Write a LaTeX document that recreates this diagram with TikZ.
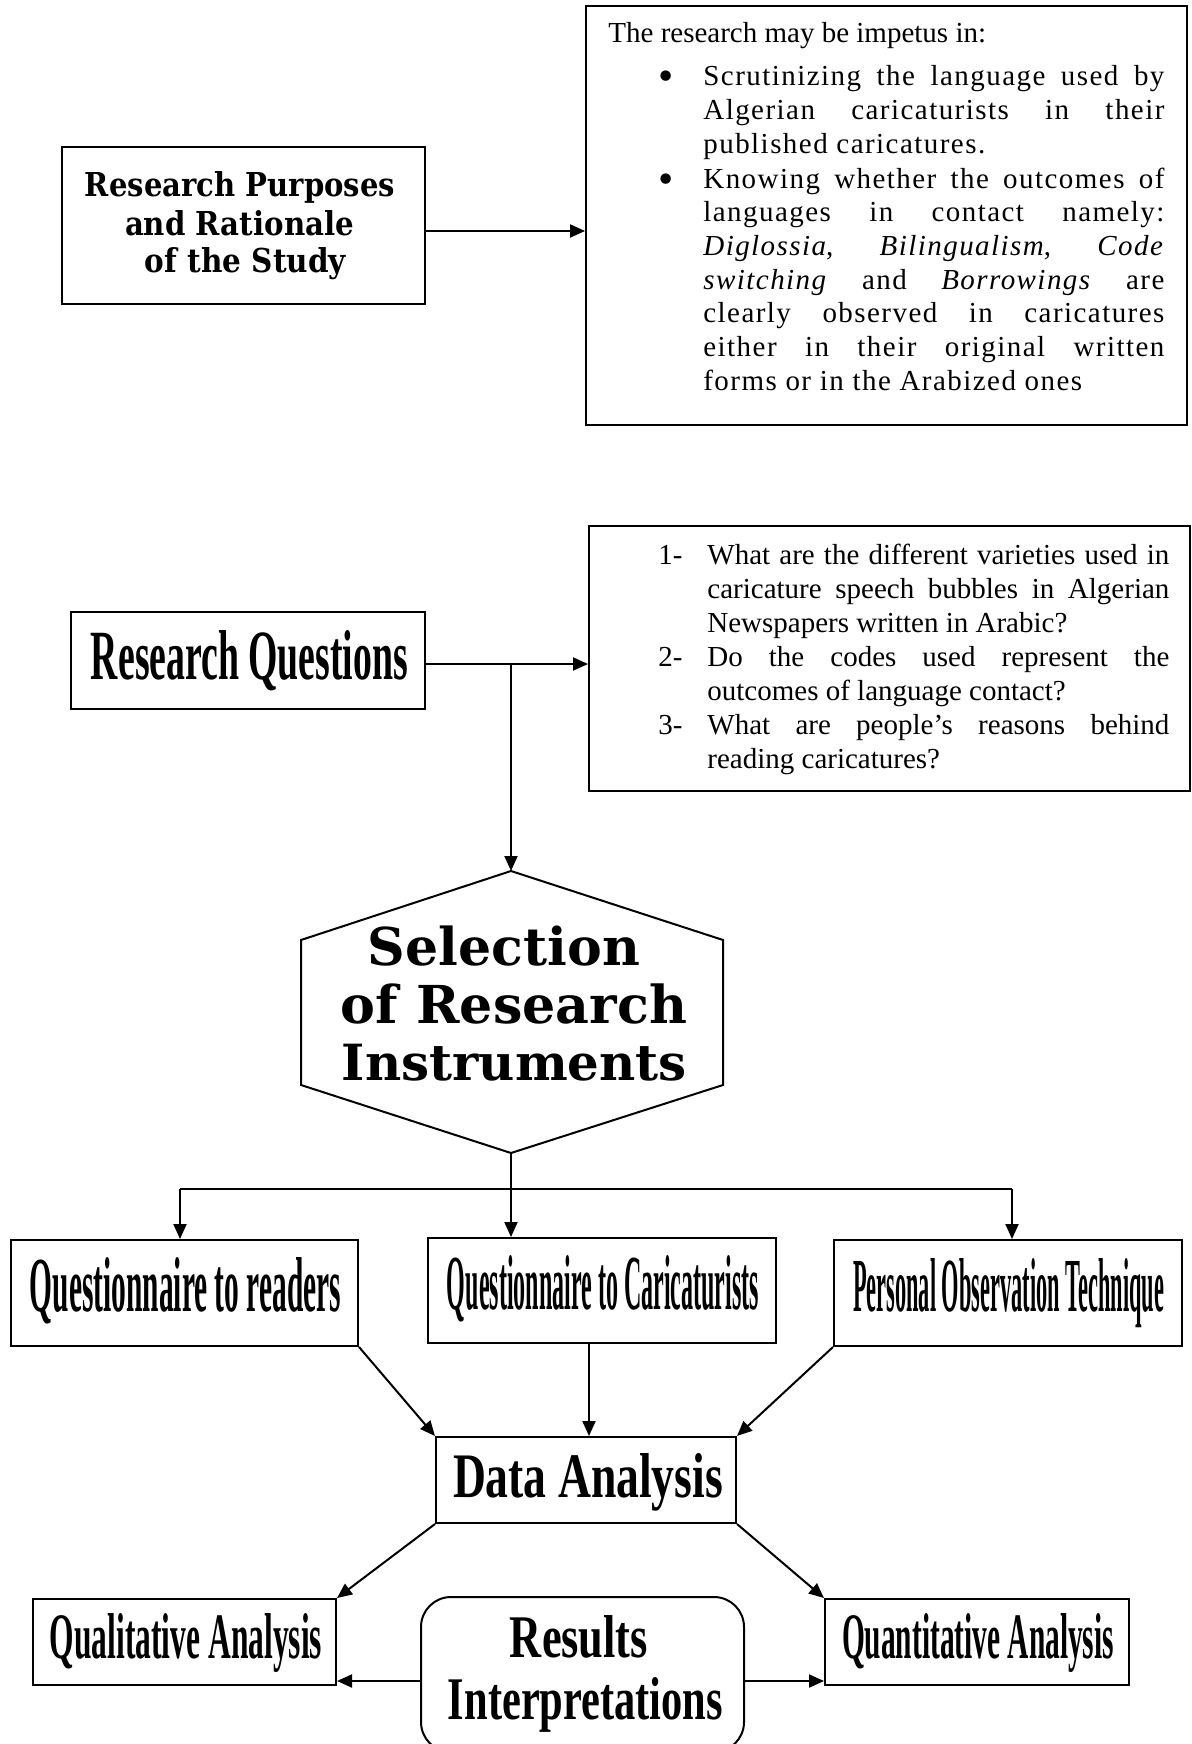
\documentclass[tikz,border=0pt]{standalone}
\usepackage{graphicx}
\usepackage{fontspec}
\setmainfont{Liberation Serif}
\newfontfamily\spacedfont{Liberation Serif}[LetterSpace=5]
\newfontfamily\widefont{DejaVu Serif}
\usetikzlibrary{arrows.meta}
\newlength\labw
\newlength\txtw
\newcommand\fl[2]{\noindent\makebox[\labw][l]{#1}\makebox[\txtw][s]{#2}\par}
\newcommand\cl[1]{\noindent\hspace*{\labw}\makebox[\txtw][s]{#1}\par}
\newcommand\lastl[1]{\noindent\hspace*{\labw}#1\par}
\newcommand\bul{\raisebox{-2.5pt}{\scalebox{1.5}{\textbullet}}}
\newcommand\cnd[3]{\resizebox{#1}{#2}{\bfseries #3}}
\newcommand\wbf[3]{\resizebox{#1}{#2}{\widefont\bfseries #3}}
\begin{document}
\begin{tikzpicture}[x=0.5pt,y=-0.5pt,
  box/.style={draw,line width=1pt,inner sep=0pt},
  lbl/.style={inner sep=0pt,anchor=base},
  arr/.style={line width=1pt,-{Triangle[length=7.5pt,width=6.5pt]}},
  ln/.style={line width=1pt}]
\useasboundingbox (0,0) rectangle (1191,1744);
% boxes
\node[box,minimum width=181.5pt,minimum height=78.5pt] (rp) at (243.5,225.5) {};
\node[box,minimum width=300.5pt,minimum height=209.5pt] (t1) at (886.5,215.5) {};
\node[box,minimum width=177pt,minimum height=48.5pt] (rq) at (248,660.5) {};
\node[box,minimum width=300.5pt,minimum height=132.5pt] (t2) at (889.5,658.5) {};
\node[box,minimum width=173.5pt,minimum height=53pt] (qr) at (184.5,1293) {};
\node[box,minimum width=174pt,minimum height=52.5pt] (qc) at (602,1290.5) {};
\node[box,minimum width=174pt,minimum height=53pt] (pot) at (1008,1293) {};
\node[box,minimum width=150pt,minimum height=43pt] (da) at (586,1480) {};
\node[box,minimum width=151.5pt,minimum height=43pt] (qual) at (184.5,1642) {};
\node[box,minimum width=152pt,minimum height=43pt] (quant) at (977,1642) {};
\node[box,rounded corners=15pt,minimum width=161.5pt,minimum height=77.5pt] (res) at (582.5,1674.5) {};
% hexagon
\coordinate (hexT) at (511,871);
\coordinate (hexB) at (511,1153);
\draw[ln] (hexT) -- (301,940) -- (301,1085) -- (hexB) -- (723,1085) -- (723,940) -- cycle;
% labels
\node[lbl] (rpa) at (240,197) {\wbf{155pt}{12.5pt}{Research Purposes}};
\node[lbl] (rpb) at (239.5,235) {\wbf{114.5pt}{12.5pt}{and Rationale}};
\node[lbl] (rpc) at (245.5,272) {\wbf{100.5pt}{12.5pt}{of the Study}};
\node[lbl,anchor=base west] (t1h) at (608,43) {\fontsize{14.5}{17}\selectfont The research may be impetus in:};
\node[lbl,anchor=base west] (t1l) at (658,86) {\spacedfont\fontsize{14.5}{16.85}\selectfont\parbox[t]{253pt}{%
\setlength\labw{22.5pt}\setlength\txtw{230.5pt}%
\fl{\bul}{Scrutinizing the language used by}%
\cl{Algerian caricaturists in their}%
\lastl{published caricatures.}%
\vspace{0.5pt}%
\fl{\bul}{Knowing whether the outcomes of}%
\cl{languages in contact namely:}%
\cl{\textit{Diglossia}, \textit{Bilingualism}, \textit{Code}}%
\cl{\textit{switching} and \textit{Borrowings} are}%
\cl{clearly observed in caricatures}%
\cl{either in their original written}%
\lastl{forms or in the Arabized ones}}};
\node[lbl] (rql) at (249.5,679) {\cnd{158.5pt}{24.5pt}{Research Questions}};
\node[lbl,anchor=base west] (t2l) at (658,564) {\fontsize{14.5}{17}\selectfont\parbox[t]{255.5pt}{%
\setlength\labw{24.5pt}\setlength\txtw{231pt}%
\fl{1-}{What are the different varieties used in}%
\cl{caricature speech bubbles in Algerian}%
\lastl{Newspapers written in Arabic?}%
\fl{2-}{Do the codes used represent the}%
\lastl{outcomes of language contact?}%
\fl{3-}{What are people’s reasons behind}%
\lastl{reading caricatures?}}};
\node[lbl] (hxa) at (504,965) {\resizebox{136pt}{!}{\widefont\bfseries Selection}};
\node[lbl] (hxb) at (514,1023) {\resizebox{173pt}{!}{\widefont\bfseries of Research}};
\node[lbl] (hxc) at (514.5,1080) {\resizebox{172.5pt}{!}{\widefont\bfseries Instruments}};
\node[lbl] (qrl) at (185.5,1311.5) {\cnd{155.5pt}{27pt}{Questionnaire to readers}};
\node[lbl] (qcl) at (603,1309) {\cnd{156pt}{27pt}{Questionnaire to Caricaturists}};
\node[lbl] (potl) at (1008.5,1311) {\cnd{155.5pt}{26.5pt}{Personal Observation Technique}};
\node[lbl] (dal) at (588,1497) {\cnd{135pt}{22pt}{Data Analysis}};
\node[lbl] (quall) at (186,1658) {\cnd{136pt}{22.5pt}{Qualitative Analysis}};
\node[lbl] (quantl) at (978,1658) {\cnd{136pt}{22.5pt}{Quantitative Analysis}};
\node[lbl] (resa) at (579,1657) {\cnd{69pt}{21pt}{Results}};
\node[lbl] (resb) at (585.5,1719) {\cnd{137.5pt}{21pt}{Interpretations}};
% connectors
\coordinate (y1) at (0,231);
\draw[arr] (rp.east |- y1) -- (t1.west |- y1);
\coordinate (j1) at (511,664);
\draw[arr] (rq.east |- j1) -- (t2.west |- j1);
\draw[arr] (j1) -- (hexT);
\coordinate (j2) at (511,1189);
\coordinate (bl) at (180,1189);
\coordinate (br) at (1012,1189);
\draw[ln] (hexB) -- (j2);
\draw[ln] (bl) -- (br);
\draw[arr] (bl) -- (qr.north -| bl);
\draw[arr] (j2) -- (qc.north -| j2);
\draw[arr] (br) -- (pot.north -| br);
\coordinate (cx) at (589,1400);
\draw[arr] (qr.south east) -- (da.north west);
\draw[arr] (qc.south -| cx) -- (da.north -| cx);
\draw[arr] (pot.south west) -- (da.north east);
\draw[arr] (da.south west) -- (qual.north east);
\draw[arr] (da.south east) -- (quant.north west);
\coordinate (ry) at (0,1681);
\draw[arr] (res.west |- ry) -- (qual.east |- ry);
\draw[arr] (res.east |- ry) -- (quant.west |- ry);
\end{tikzpicture}
\end{document}
